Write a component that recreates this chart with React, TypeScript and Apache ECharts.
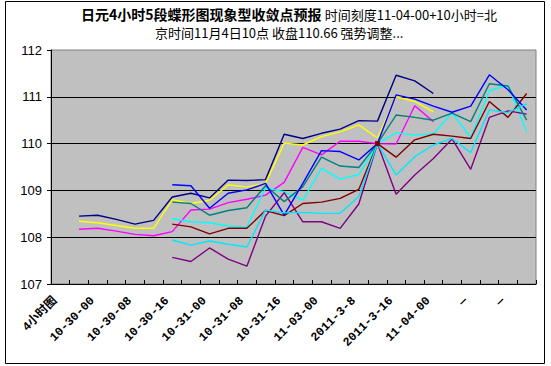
import React, { useEffect, useRef } from 'react';
import * as echarts from 'echarts';

const categories = [
  '4小时图', '', '10-30-00', '', '10-30-08', '', '10-30-16', '', '10-31-00', '',
  '10-31-08', '', '10-31-16', '', '11-03-00', '', '2011-3-8', '', '2011-3-16', '',
  '11-04-00', '', '—', '', '—', '',
];

const yTicks = [107, 108, 109, 110, 111, 112];

const navy = [null, 108.45, 108.47, 108.38, 108.28, 108.36, 108.86, 108.94, 108.84, 109.22, 109.21, 109.23, 110.2, 110.11, 110.22, 110.31, 110.49, 110.48, 111.46, 111.34, 111.07, null, null, null, null, null];
const magenta = [null, 108.17, 108.19, 108.13, 108.06, 108.03, 108.12, 108.58, 108.6, 108.74, 108.81, 108.9, 109.17, 109.92, 109.76, 110.05, 110.05, 110.0, 109.99, 110.81, 110.47, null, null, null, null, null];
const yellow = [null, 108.34, 108.31, 108.25, 108.19, 108.19, 108.8, 108.72, 108.79, 109.12, 109.07, 109.15, 110.01, 109.97, 110.15, 110.25, 110.4, 110.12, 111.0, 110.9, 110.68, null, null, null, null, null];
const cyan = [null, null, null, null, null, null, 108.4, 108.33, 108.31, 108.24, 108.22, 109.05, 108.97, 108.79, 109.47, 109.24, 109.34, 110.0, 110.23, 110.18, 110.21, 110.66, 110.13, 111.13, 111.25, 110.25];
const purple = [null, null, null, null, null, null, 107.57, 107.48, 107.77, 107.53, 107.38, 108.45, 108.95, 108.33, 108.33, 108.19, 108.71, 110.0, 108.92, 109.33, 109.68, 110.1, 109.45, 110.56, 110.7, 110.63];
const darkRed = [null, null, null, null, null, null, 108.28, 108.22, 108.07, 108.19, 108.19, 108.57, 108.46, 108.72, 108.75, 108.83, 109.02, 110.0, 109.71, 110.08, 110.2, 110.16, 110.11, 110.9, 110.56, 111.07];
const teal = [null, null, null, null, null, null, 108.75, 108.72, 108.47, 108.57, 108.63, 109.1, 108.76, 109.08, 109.71, 109.52, 109.49, 110.0, 110.61, 110.56, 110.5, 110.65, 110.47, 111.28, 111.23, 110.5];
const blue = [null, null, null, null, null, null, 109.12, 109.1, 108.62, 108.94, 109.01, 109.15, 108.47, 109.15, 109.85, 109.83, 109.65, 110.0, 111.04, 110.95, 110.8, 110.67, 110.8, 111.47, 111.15, 110.72];
const cyan2 = [null, null, null, null, null, null, 107.94, 107.83, 107.92, 107.85, 107.79, 108.58, 108.52, 108.53, 108.51, 108.51, 108.87, 110.0, 109.33, 109.72, 109.97, 110.11, 109.81, 110.72, 110.66, 110.85];

const seriesList = [
  { name: 'S1', data: navy, color: '#000080' },
  { name: 'S2', data: magenta, color: '#FF00FF' },
  { name: 'S3', data: yellow, color: '#FFFF00' },
  { name: 'S4', data: cyan, color: '#00FFFF' },
  { name: 'S5', data: purple, color: '#800080' },
  { name: 'S6', data: darkRed, color: '#800000' },
  { name: 'S7', data: teal, color: '#008080' },
  { name: 'S8', data: blue, color: '#0000FF' },
  { name: 'S9', data: cyan2, color: '#00E8FF' },
];

const CJK = '"Noto Sans CJK SC", "Liberation Sans", sans-serif';
const MONO = '"Liberation Mono", "Noto Sans CJK SC", monospace';

export default function App() {
  const ref = useRef<HTMLDivElement>(null);
  useEffect(() => {
    if (!ref.current) return;
    const chart = echarts.init(ref.current, undefined, { renderer: 'svg' });
    chart.setOption({
      animation: false,
      backgroundColor: '#ffffff',
      grid: {
        left: 51, right: 15, top: 50, bottom: 82,
        show: true, backgroundColor: '#C0C0C0', borderColor: '#808080', borderWidth: 1,
      },
      xAxis: {
        type: 'category',
        boundaryGap: true,
        data: categories,
        axisLine: { show: true, lineStyle: { color: '#000', width: 1 } },
        axisTick: { show: true, inside: true, length: 4, interval: 0, lineStyle: { color: '#000' } },
        axisLabel: {
          interval: 1, rotate: 45, fontSize: 12, fontWeight: 'bold', color: '#000',
          margin: 10, padding: [0, 7, 0, 0], fontFamily: MONO,
        },
        splitLine: { show: false },
      },
      yAxis: {
        type: 'value',
        min: yTicks[0], max: yTicks[yTicks.length - 1], interval: 1,
        axisLine: { show: true, lineStyle: { color: '#000', width: 1 } },
        axisTick: { show: true, length: 4, lineStyle: { color: '#000' } },
        axisLabel: { fontSize: 13, color: '#000', margin: 9, fontFamily: '"Liberation Sans", sans-serif' },
        splitLine: { show: true, showMaxLine: false, lineStyle: { color: '#000', width: 1.2 } },
      },
      series: seriesList.map((s) => ({
        type: 'line',
        name: s.name,
        data: s.data,
        showSymbol: false,
        symbol: 'none',
        connectNulls: false,
        lineStyle: { color: s.color, width: 1.4 },
        itemStyle: { color: s.color },
        markPoint: s.name === 'S6' ? {
          symbol: 'rect', symbolSize: 5,
          itemStyle: { color: '#800000' },
          label: { show: false },
          data: [{ coord: [17, 110.0] }],
        } : undefined,
      })),
      graphic: [
        {
          type: 'rect',
          shape: { x: 5.5, y: 1.5, width: 539, height: 362 },
          style: { fill: 'none', stroke: '#000', lineWidth: 1 },
          silent: true,
        },
        {
          type: 'text', left: 81, top: 7,
          style: {
            text: '{b|日元4小时5段蝶形图现象型收敛点预报} {n|时间刻度11-04-00+10小时=北}',
            rich: {
              b: { fontFamily: CJK, fontSize: 14, fontWeight: 'bold', fill: '#000', lineHeight: 16 },
              n: { fontFamily: CJK, fontSize: 13, fill: '#000', lineHeight: 16 },
            },
          },
        },
        {
          type: 'text', left: 155, top: 25,
          style: {
            text: '京时间11月4日10点 收盘110.66 强势调整...',
            fontFamily: CJK, fontSize: 13, fill: '#000', lineHeight: 15,
          },
        },
      ],
    });
    return () => chart.dispose();
  }, []);
  return <div ref={ref} style={{ position: 'fixed', left: 0, top: 0, width: 551, height: 366 }} />;
}
